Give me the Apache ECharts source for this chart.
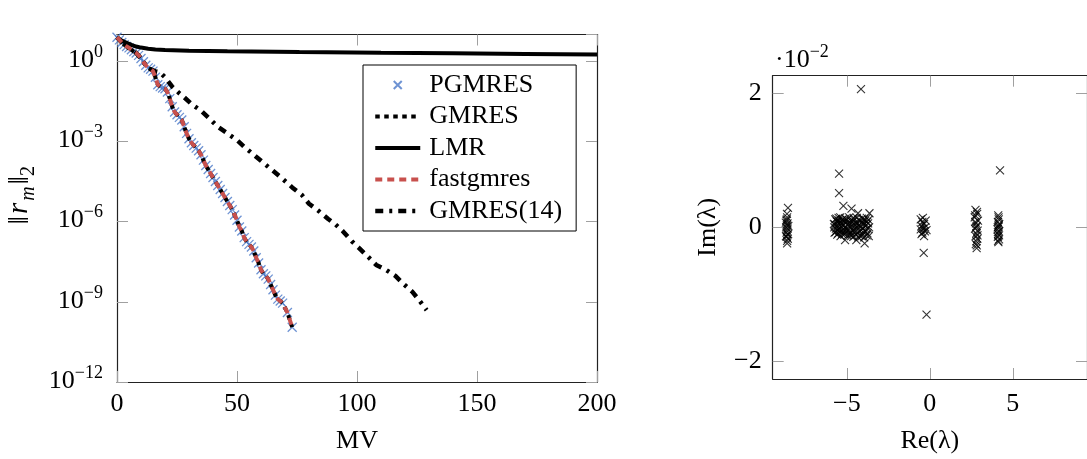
<!DOCTYPE html>
<html>
<head>
<meta charset="utf-8">
<script src="https://cdn.jsdelivr.net/npm/echarts@6/dist/echarts.min.js"></script>
<style>
  html, body { margin: 0; padding: 0; background: #fff; }
  #main { width: 1087px; height: 459px; }
</style>
</head>
<body>
<div id="main"></div>
<script>
// 左图: 残差范数 (对数坐标, 存的是 log10 值)
var pgmresX = [0,1,2,3,4,5,6,7,8,9,10,11,12,13,14,15,16,17,18,19,20,21,22,23,24,25,26,27,28,29,30,31,32,33,34,35,36,37,38,39,40,41,42,43,44,45,46,47,48,49,50,51,52,53,54,55,56,57,58,59,60,61,62,63,64,65,66,67,68,69,71,73];
var pgmresExp = [0.9,0.8,0.7,0.62,0.55,0.5,0.43,0.36,0.31,0.22,0.1,-0.02,-0.15,-0.25,-0.3,-0.37,-0.6,-0.88,-0.95,-1.0,-1.03,-1.15,-1.4,-1.7,-1.9,-2.0,-2.1,-2.2,-2.45,-2.7,-2.9,-3.05,-3.15,-3.25,-3.35,-3.5,-3.7,-3.9,-4.05,-4.2,-4.35,-4.5,-4.65,-4.8,-4.95,-5.1,-5.25,-5.4,-5.55,-5.75,-5.95,-6.2,-6.35,-6.6,-6.75,-6.85,-6.95,-7.1,-7.35,-7.55,-7.8,-7.95,-8.03,-8.15,-8.35,-8.55,-8.75,-8.9,-8.97,-9.05,-9.4,-9.95];

var lmrX = [0,2,4,6,8,10,13,16,20,30,46,76,110,140,170,200];
var lmrExp = [0.88,0.77,0.69,0.61,0.55,0.51,0.47,0.44,0.42,0.39,0.37,0.345,0.32,0.3,0.275,0.25];

var gm14X = [0,2,4,6,8,10,12,14,16,18,20,23,26,28,31,35,38,42,46,50,53,57,61,65,69,73,77,80,84,88,91,94,98,101,105,108,112,116,119,123,126,129];
var gm14Exp = [0.9,0.7,0.55,0.43,0.31,0.1,-0.15,-0.3,-0.38,-0.42,-0.6,-0.95,-1.2,-1.35,-1.6,-1.85,-2.1,-2.45,-2.7,-2.95,-3.2,-3.5,-3.8,-4.1,-4.4,-4.72,-5.0,-5.33,-5.6,-5.9,-6.1,-6.35,-6.75,-7.0,-7.35,-7.62,-7.8,-8.03,-8.3,-8.62,-8.95,-9.31];

// GMRES 和 fastgmres 与 PGMRES 基本重合
var gmresX = pgmresX, gmresExp = pgmresExp;
var fastX = pgmresX, fastExp = pgmresExp;

// 右图: 特征值 (Im 以 1e-2 为单位), 大致按簇排列
var eigRe = [
  -8.55,-8.6,-8.65,-8.58,-8.62,-8.66,-8.57,-8.61,-8.64,-8.59,-8.63,-8.56,-8.6,-8.62,-8.68,-8.54,-8.61,-8.67,-8.53,-8.6,
  -5.78,-5.74,-5.7,-5.66,-5.62,-5.58,-5.55,-5.5,-5.47,-5.42,-5.38,-5.33,-5.3,-5.26,-5.21,-5.18,-5.14,-5.11,-5.08,-5.03,
  -4.98,-4.95,-4.9,-4.86,-4.82,-4.77,-4.72,-4.7,-4.66,-4.61,-4.57,-4.53,-4.48,-4.43,-4.4,-4.36,-4.33,-4.29,-4.25,-4.2,
  -4.15,-4.13,-4.09,-4.04,-4.0,-3.96,-3.93,-3.89,-3.84,-3.8,-3.76,-3.72,-3.68,-3.64,-3.66,-5.47,-5.47,
  -5.76,-5.72,-5.68,-5.64,-5.6,-5.56,-5.52,-5.48,-5.44,-5.4,-5.36,-5.32,-5.28,-5.24,-5.2,-5.16,-5.12,-5.06,-5.0,-4.93,
  -4.88,-4.84,-4.79,-4.74,-4.68,-4.63,-4.59,-4.55,-4.5,-4.46,-4.42,-4.38,-4.31,-4.27,-4.22,-4.17,-4.11,-4.06,-4.02,-3.98,
  -3.91,-3.86,-3.82,-3.78,-3.74,-3.7,
  -0.55,-0.45,-0.35,-0.5,-0.25,-0.4,-0.3,-0.5,-0.2,-0.35,-0.37,-0.2,-0.45,-0.55,-0.28,-0.42,
  2.75,2.85,2.7,2.9,2.78,2.82,2.72,2.88,2.8,2.76,2.86,2.8,2.77,2.82,2.84,2.74,2.87,2.79,2.83,2.73,
  4.12,4.15,4.1,4.18,4.13,4.08,4.16,4.12,4.1,4.17,4.13,4.23,4.14,4.09,4.17,4.11,4.15,4.1
];
var eigIm = [
  0.29,0.15,0.1,0.06,0.03,0.0,-0.02,-0.05,-0.08,-0.11,-0.14,-0.17,-0.2,0.12,0.07,-0.1,0.2,-0.13,0.02,-0.24,
  0.05,-0.08,0.12,-0.02,0.09,-0.11,0.03,0.14,-0.05,0.07,-0.13,0.01,0.11,-0.07,0.32,0.04,-0.1,-0.19,0.13,-0.03,
  0.08,-0.12,0.02,0.15,-0.06,0.1,0.28,-0.09,0.04,-0.14,0.12,-0.01,0.07,-0.19,0.14,-0.08,0.21,0.03,-0.12,0.09,
  2.06,-0.04,0.13,-0.1,0.05,-0.15,-0.24,0.1,-0.03,0.14,-0.09,0.06,-0.13,0.21,0.0,0.8,0.51,
  0.0,0.04,-0.07,0.13,-0.04,0.08,-0.09,0.1,-0.01,0.15,-0.06,0.06,-0.1,0.12,-0.03,0.09,0.0,-0.08,0.11,-0.05,
  0.06,-0.1,0.01,-0.13,0.08,-0.04,0.14,-0.08,0.03,-0.11,0.06,0.0,-0.15,0.11,-0.06,0.02,-0.13,0.08,-0.02,0.12,
  -0.06,0.03,-0.12,0.08,-0.02,0.11,
  0.12,0.08,0.05,0.02,0.1,-0.02,-0.06,-0.1,-0.04,-0.13,-0.38,-1.3,-0.08,-0.03,0.0,0.14,
  0.26,0.2,0.15,0.1,0.06,0.02,-0.02,-0.05,-0.09,-0.13,-0.17,-0.21,-0.25,-0.31,0.23,0.08,-0.12,0.0,-0.27,0.18,
  0.18,0.12,0.08,0.05,0.01,-0.03,-0.06,-0.1,-0.14,-0.18,-0.22,0.85,0.15,0.0,-0.12,-0.2,0.03,-0.07
];
var reTicks = [-5, 0, 5];
var imTicks = [-2, 0, 2];

var FONT = 'Liberation Serif';
var xMark = 'path://M0,0L8,8M8,0L0,8';

function pairs(xs, es) {
  return xs.map(function (x, i) { return [x, Math.pow(10, es[i])]; });
}
function minus(v) {
  return v < 0 ? '\u2212' + (-v) : '' + v;
}
function expLabel(v) {
  var e = Math.round(Math.log10(v));
  return '{b|10}{s|' + minus(e) + '}';
}

var lineCol = '#222';
var tickCol = '#a0a0a0';
var labelStyle = { fontFamily: FONT, fontSize: 26, color: '#000' };

function frameAxis(extra) {
  var base = {
    axisLine: { show: true, onZero: false, lineStyle: { color: lineCol, width: 1.2 } },
    axisTick: { show: true, inside: true, length: 11, lineStyle: { color: tickCol, width: 1 } },
    splitLine: { show: false },
    axisLabel: { show: false }
  };
  return Object.assign(base, extra);
}

// 上标: 10^k
var SUP = 4;
var supRich = {
  b: { fontFamily: FONT, fontSize: 26, color: '#000', verticalAlign: 'bottom', padding: [SUP, 0, 0, 0] },
  s: { fontFamily: FONT, fontSize: 18, color: '#000', verticalAlign: 'top' }
};
var hideSym = { opacity: 0 };

var chart = echarts.init(document.getElementById('main'), null, { renderer: 'canvas' });

var option = {
  animation: false,
  backgroundColor: '#fff',
  title: {
    text: '{d|\u00b710}{s|\u22122}',
    left: 775,
    top: 43,
    padding: 0,
    textStyle: { fontWeight: 'normal', rich: {
      d: { fontFamily: FONT, fontSize: 26, fontWeight: 'normal', color: '#000', verticalAlign: 'bottom', padding: [SUP, 0, 0, 0] },
      s: { fontFamily: FONT, fontSize: 18, fontWeight: 'normal', color: '#000', verticalAlign: 'top' }
    } }
  },
  grid: [
    { left: 117, top: 34.5, right: 490, bottom: 71.3 },
    { left: 772.7, top: 75.7, right: -6.7, bottom: 79.7 }
  ],
  legend: {
    orient: 'vertical',
    left: 363,
    top: 65,
    itemWidth: 45,
    itemHeight: 14,
    itemGap: 5.5,
    padding: [7, 14, 7, 10],
    borderColor: '#000',
    borderWidth: 1,
    borderRadius: 0,
    backgroundColor: '#fff',
    selectedMode: false,
    textStyle: { fontFamily: FONT, fontSize: 26, color: '#000', lineHeight: 26, padding: [0, 0, 0, 4] },
    data: [
      { name: 'PGMRES', icon: 'path://M-3,-3M0,0L8,8M8,0L0,8M11,11' },
      { name: 'GMRES', itemStyle: hideSym, lineStyle: { width: 4 } },
      { name: 'LMR', itemStyle: hideSym, lineStyle: { width: 4 } },
      { name: 'fastgmres', itemStyle: hideSym, lineStyle: { width: 4 } },
      { name: 'GMRES(14)', itemStyle: hideSym, lineStyle: { width: 4.5 } }
    ]
  },
  xAxis: [
    frameAxis({
      gridIndex: 0, type: 'value', min: 0, max: 200, interval: 50, position: 'bottom',
      name: 'MV', nameLocation: 'middle', nameGap: 46,
      nameTextStyle: { fontFamily: FONT, fontSize: 26, color: '#000' },
      axisLabel: Object.assign({ show: true, margin: 9 }, labelStyle)
    }),
    frameAxis({ gridIndex: 0, type: 'value', min: 0, max: 200, interval: 50, position: 'top' }),
    frameAxis({
      gridIndex: 1, type: 'value', min: -9.47, max: 9.47, position: 'bottom',
      name: 'Re(\u03bb)', nameLocation: 'middle', nameGap: 49,
      nameTextStyle: { fontFamily: FONT, fontSize: 26, color: '#000' },
      axisTick: { show: true, inside: true, length: 11, customValues: reTicks, lineStyle: { color: tickCol, width: 1 } },
      axisLabel: Object.assign({ show: true, margin: 12, customValues: reTicks, formatter: minus }, labelStyle)
    }),
    frameAxis({
      gridIndex: 1, type: 'value', min: -9.47, max: 9.47, position: 'top',
      axisTick: { show: true, inside: true, length: 11, customValues: reTicks, lineStyle: { color: tickCol, width: 1 } }
    })
  ],
  yAxis: [
    frameAxis({
      gridIndex: 0, type: 'log', logBase: 10, min: 1e-12, max: 10, interval: 3, position: 'left',
      name: '{sp| }{a|\u2016}{i|r}{sub|m}{a|\u2016}{n|2}', nameLocation: 'middle', nameGap: 78, nameRotate: 90,
      nameTextStyle: {
        rich: {
          sp: { fontSize: 10, width: 26 },
          a: { fontFamily: FONT, fontSize: 30, color: '#000', verticalAlign: 'top' },
          i: { fontFamily: FONT, fontSize: 29, fontStyle: 'italic', color: '#000', verticalAlign: 'top', padding: [0, 2, 0, 2] },
          sub: { fontFamily: FONT, fontSize: 20, fontStyle: 'italic', color: '#000', verticalAlign: 'bottom', padding: [14, 2, 0, 0] },
          n: { fontFamily: FONT, fontSize: 20, color: '#000', verticalAlign: 'bottom', padding: [14, 0, 0, 0] }
        }
      },
      axisLabel: { show: true, margin: 14, showMaxLabel: false, formatter: expLabel, padding: [0, 0, SUP + 2, 0], rich: supRich }
    }),
    frameAxis({ gridIndex: 0, type: 'log', logBase: 10, min: 1e-12, max: 10, interval: 3, position: 'right' }),
    frameAxis({
      gridIndex: 1, type: 'value', min: -2.26, max: 2.26, position: 'left',
      name: 'Im(\u03bb)', nameLocation: 'middle', nameGap: 52, nameRotate: 90,
      nameTextStyle: { fontFamily: FONT, fontSize: 26, color: '#000' },
      axisTick: { show: true, inside: true, length: 11, customValues: imTicks, lineStyle: { color: tickCol, width: 1 } },
      axisLabel: Object.assign({ show: true, margin: 11, customValues: imTicks, formatter: minus }, labelStyle)
    }),
    frameAxis({
      gridIndex: 1, type: 'value', min: -2.26, max: 2.26, position: 'right',
      axisTick: { show: true, inside: true, length: 11, customValues: imTicks, lineStyle: { color: tickCol, width: 1 } }
    })
  ],
  series: [
    {
      name: 'LMR', type: 'line', xAxisIndex: 0, yAxisIndex: 0, symbol: 'none',
      data: pairs(lmrX, lmrExp),
      lineStyle: { color: '#000', width: 4 }, itemStyle: { color: '#000' }
    },
    {
      name: 'GMRES(14)', type: 'line', xAxisIndex: 0, yAxisIndex: 0, symbol: 'none',
      data: pairs(gm14X, gm14Exp),
      lineStyle: { color: '#000', width: 4.5, type: [8, 6, 3, 6] }, itemStyle: { color: '#000' }
    },
    {
      name: 'GMRES', type: 'line', xAxisIndex: 0, yAxisIndex: 0, symbol: 'none',
      data: pairs(gmresX, gmresExp),
      lineStyle: { color: '#000', width: 4, type: [4.5, 4.5] }, itemStyle: { color: '#000' }
    },
    {
      name: 'fastgmres', type: 'line', xAxisIndex: 0, yAxisIndex: 0, symbol: 'none',
      data: pairs(fastX, fastExp),
      lineStyle: { color: '#c8504d', width: 4, type: [7, 5] }, itemStyle: { color: '#c8504d' }
    },
    {
      name: 'PGMRES', type: 'scatter', xAxisIndex: 0, yAxisIndex: 0,
      symbol: xMark, symbolSize: 9, symbolKeepAspect: true,
      data: pairs(pgmresX, pgmresExp),
      itemStyle: { color: 'rgba(0,0,0,0)', borderColor: '#4a78c8', borderWidth: 1.3 }
    },
    {
      name: 'eig', type: 'scatter', xAxisIndex: 2, yAxisIndex: 2,
      symbol: xMark, symbolSize: 8, symbolKeepAspect: true,
      data: eigRe.map(function (r, i) { return [r, eigIm[i]]; }),
      itemStyle: { color: 'rgba(0,0,0,0)', borderColor: '#000', borderWidth: 1.1 }
    }
  ]
};

chart.setOption(option);
</script>
</body>
</html>
